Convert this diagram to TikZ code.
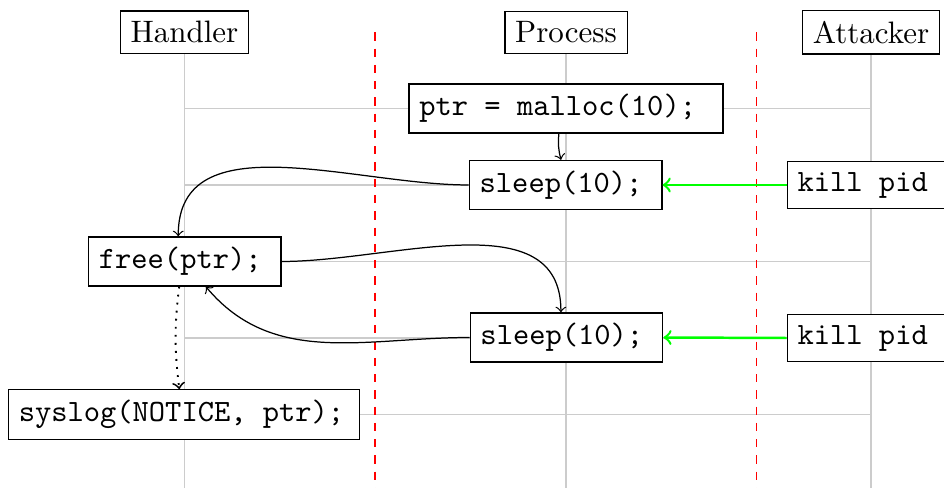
\documentclass[tikz,border=0pt]{standalone}
\usetikzlibrary{backgrounds}
\begin{document}
\begin{tikzpicture}[x=0.32258pt, y=-0.32258pt,
  head/.style={draw, fill=white},
  code/.style={draw, fill=white, align=flush left, font=\ttfamily},
  lane/.style={black!20, line width=0.4pt},
  border/.style={red, line width=0.4pt, dash pattern=on 2.65pt off 2.6pt},
  flow/.style={->},
  signal/.style={->, green, thick}]
\useasboundingbox (0,0) rectangle (944,488);
\clip (0,0) rectangle (944,488);

% column heads
\node[head] (hHandler)  at (184.5,32.3) {Handler};
\node[head] (hProcess)  at (566,32.3)   {Process};
\node[head] (hAttacker) at (871,32.3)   {Attacker};

% process column
\node[code, text width=94.6pt] (malloc) at (566,108.5)   {ptr = malloc(10);};
\node[code, text width=55.5pt] (sleepA) at (565.7,185)   {sleep(10);};
\node[code, text width=55.5pt] (sleepB) at (566.5,337.5) {sleep(10);};

% attacker column
\node[code, text width=48.2pt] (killA) at (872.3,185) {kill pid};
\node[code, text width=48.2pt] (killB) at (872.3,338) {kill pid};

% handler column
\node[code, text width=55.4pt]  (free)   at (184.75,261.5) {free(ptr);};
\node[code, text width=106.6pt] (syslog) at (184,414.5)    {syslog(NOTICE, ptr);};

% lifelines, row guides and boundaries
\begin{scope}[on background layer]
  \draw[lane] (hHandler.south)  -- (hHandler.south |- 0,488);
  \draw[lane] (hProcess.south)  -- (hProcess.south |- 0,488);
  \draw[lane] (hAttacker.south) -- (hAttacker.south |- 0,488);
  \foreach \r in {108.5,185,261.5,338,414.5}
    \draw[lane] (184.5,\r) -- (871.5,\r);
  \coordinate (bA) at (375,32.3);
  \coordinate (bB) at (756.7,32.3);
  \draw[border] (bA) -- (bA |- 0,488);
  \draw[border] (bB) -- (bB |- 0,488);
\end{scope}

% control flow
\draw[flow] ([xshift=-2.3pt]malloc.south) to[bend right=10] ([xshift=-1.5pt]sleepA.north);
\draw[flow] (sleepA.west) to[out=180,in=90] ([xshift=-2.1pt]free.north);
\draw[flow] (free.east) to[out=0,in=90] ([xshift=-1.8pt]sleepB.north);
\draw[flow] (sleepB.west) to[out=180,in=-50] ([xshift=6.8pt]free.south);
\draw[flow, dotted, semithick] ([xshift=-1.8pt]free.south) to[bend right=7] ([xshift=-1.5pt]syslog.north);

% signals
\draw[signal] (killA.west) -- (sleepA.east);
\draw[signal] (killB.west) -- (sleepB.east);
\end{tikzpicture}
\end{document}
